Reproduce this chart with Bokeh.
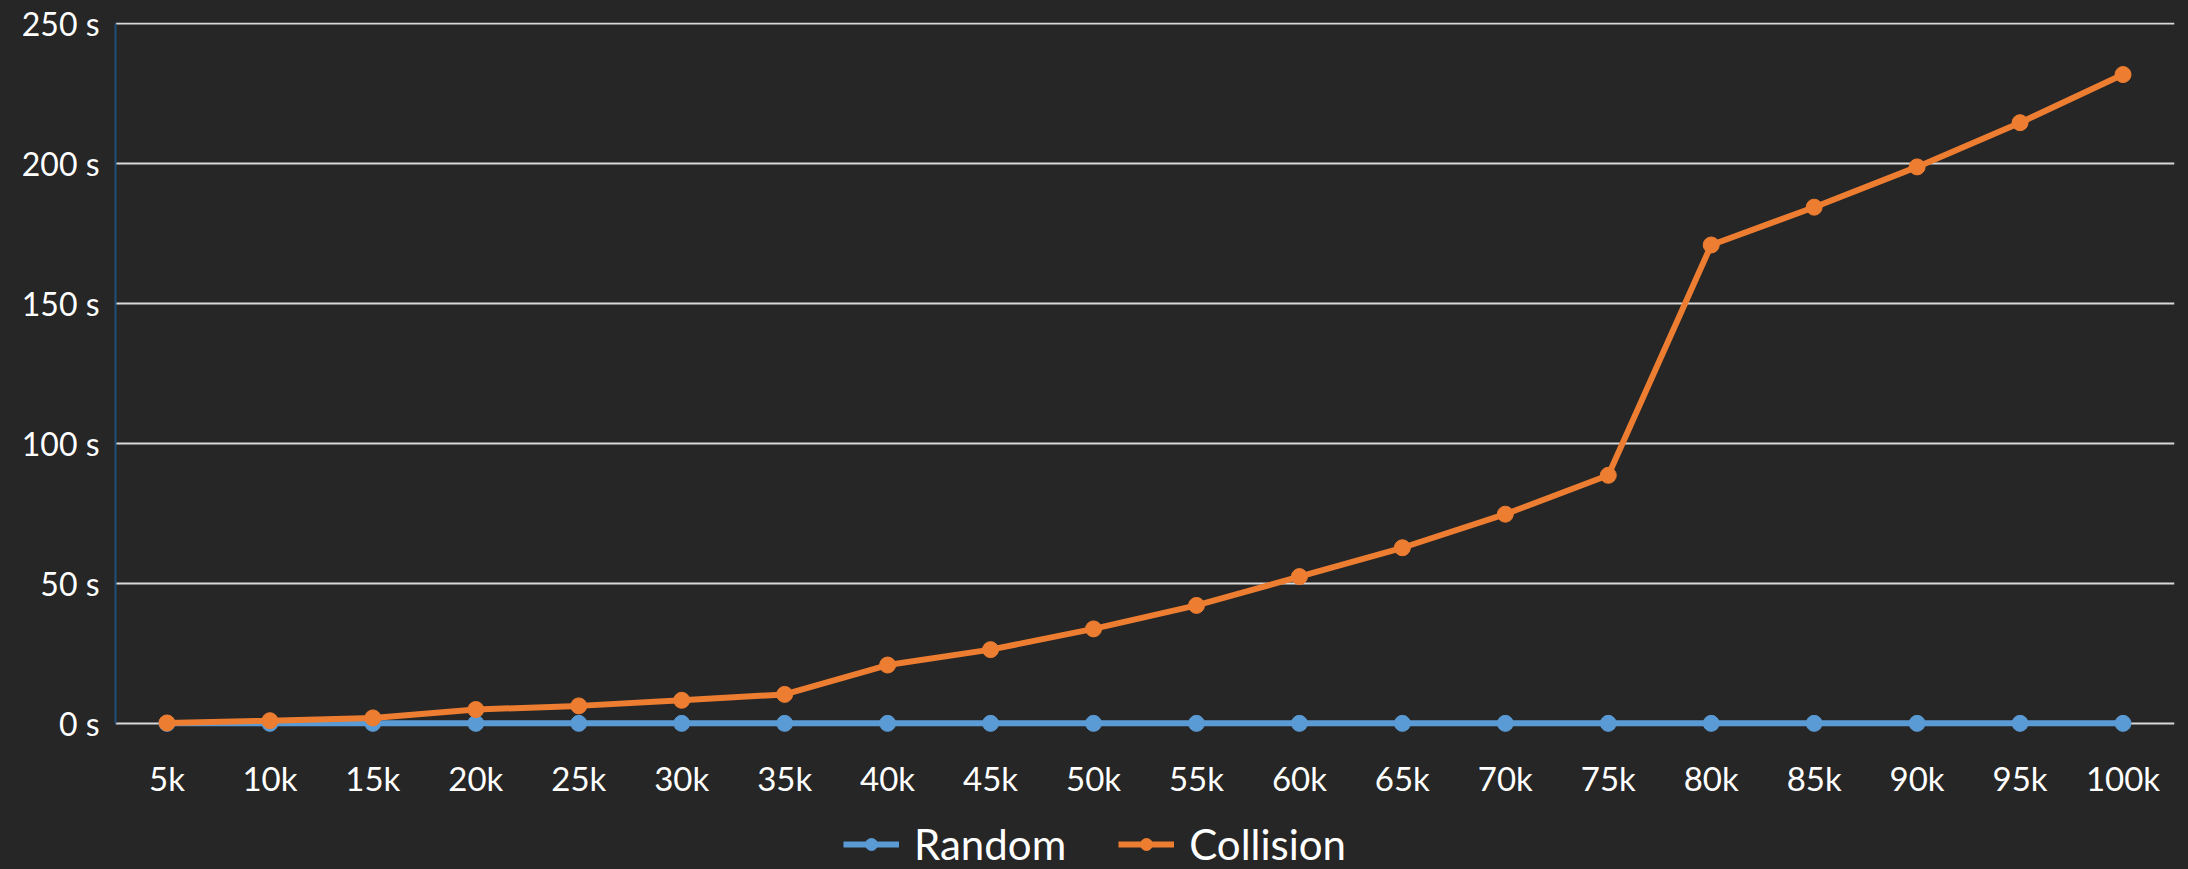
from bokeh.plotting import figure
from bokeh.layouts import column
from bokeh.models import ColumnDataSource, Legend, LegendItem, PrintfTickFormatter, SingleIntervalTicker, Range1d, FactorRange
from bokeh.embed import file_html
from bokeh.resources import INLINE

categories = ["5k", "10k", "15k", "20k", "25k", "30k", "35k", "40k", "45k", "50k",
              "55k", "60k", "65k", "70k", "75k", "80k", "85k", "90k", "95k", "100k"]
random_s = [0.05, 0.05, 0.05, 0.05, 0.05, 0.05, 0.05, 0.05, 0.05, 0.05,
            0.05, 0.05, 0.05, 0.05, 0.05, 0.05, 0.05, 0.05, 0.05, 0.05]
collision_s = [0.2, 1.0, 2.0, 5.0, 6.3, 8.3, 10.4, 20.9, 26.4, 33.8,
               42.2, 52.5, 62.8, 74.8, 88.7, 171.0, 184.5, 198.9, 214.7, 231.9]
series_names = ["Random", "Collision"]

BG = "#262626"
FONT = "Lato"
BLUE = "#5B9BD5"
ORANGE = "#ED7D31"
LW = 6
MS = 16

src = ColumnDataSource(dict(cat=categories, r=random_s, c=collision_s))

p = figure(width=2188, height=800, x_range=FactorRange(*categories, range_padding=0),
           y_range=Range1d(-5, 250.5), output_backend="svg", toolbar_location=None,
           background_fill_color=BG, border_fill_color=BG,
           min_border_left=115, min_border_right=14, min_border_top=22, min_border_bottom=60)
p.outline_line_color = None

p.line("cat", "r", source=src, line_color=BLUE, line_width=LW)
p.scatter("cat", "r", source=src, size=MS, fill_color=BLUE, line_color=BLUE)
p.line("cat", "c", source=src, line_color=ORANGE, line_width=LW)
p.scatter("cat", "c", source=src, size=MS, fill_color=ORANGE, line_color=ORANGE)

p.xgrid.grid_line_color = None
p.ygrid.grid_line_color = "#d9d9d9"
p.ygrid.grid_line_width = 2
p.yaxis.ticker = SingleIntervalTicker(interval=50)
p.yaxis.formatter = PrintfTickFormatter(format="%d s")
p.yaxis.bounds = (0, 250)

for ax in (p.xaxis[0], p.yaxis[0]):
    ax.major_tick_line_color = None
    ax.minor_tick_line_color = None
    ax.major_label_text_color = "#ffffff"
    ax.major_label_text_font = FONT
ax_x, ax_y = p.xaxis[0], p.yaxis[0]
ax_x.major_label_text_font_size = "33px"
ax_y.major_label_text_font_size = "32px"
p.xaxis.axis_line_color = None
p.xaxis.major_label_standoff = 14
p.yaxis.axis_line_color = "#1F4E79"
p.yaxis.axis_line_width = 2
p.yaxis.major_label_standoff = 10

# legend strip below the chart (series drawn out of view, only the legend shows)
p2 = figure(width=2188, height=69, x_range=FactorRange(*categories), y_range=Range1d(-1000, -999),
            output_backend="svg", toolbar_location=None,
            x_axis_location=None, y_axis_location=None,
            background_fill_color=BG, border_fill_color=BG, min_border=0)
p2.outline_line_color = None
p2.grid.visible = False
items = []
for name, key, col in zip(series_names, ["r", "c"], [BLUE, ORANGE]):
    l = p2.line("cat", key, source=src, line_color=col, line_width=LW)
    s = p2.scatter("cat", key, source=src, size=MS, fill_color=col, line_color=col)
    items.append(LegendItem(label=name, renderers=[l, s]))

legend = Legend(items=items, orientation="horizontal", location=(728, 0),
                background_fill_alpha=0, border_line_color=None,
                label_text_color="#ffffff", label_text_font=FONT,
                label_text_font_size="42px", glyph_width=56, glyph_height=30,
                label_standoff=15, spacing=52, margin=0, padding=0)
p2.add_layout(legend)

html = file_html(column(p, p2, spacing=0), INLINE)
html = html.replace("</head>", "<style>html,body{background:#262626;}</style></head>", 1)
open("out.html", "w").write(html)
